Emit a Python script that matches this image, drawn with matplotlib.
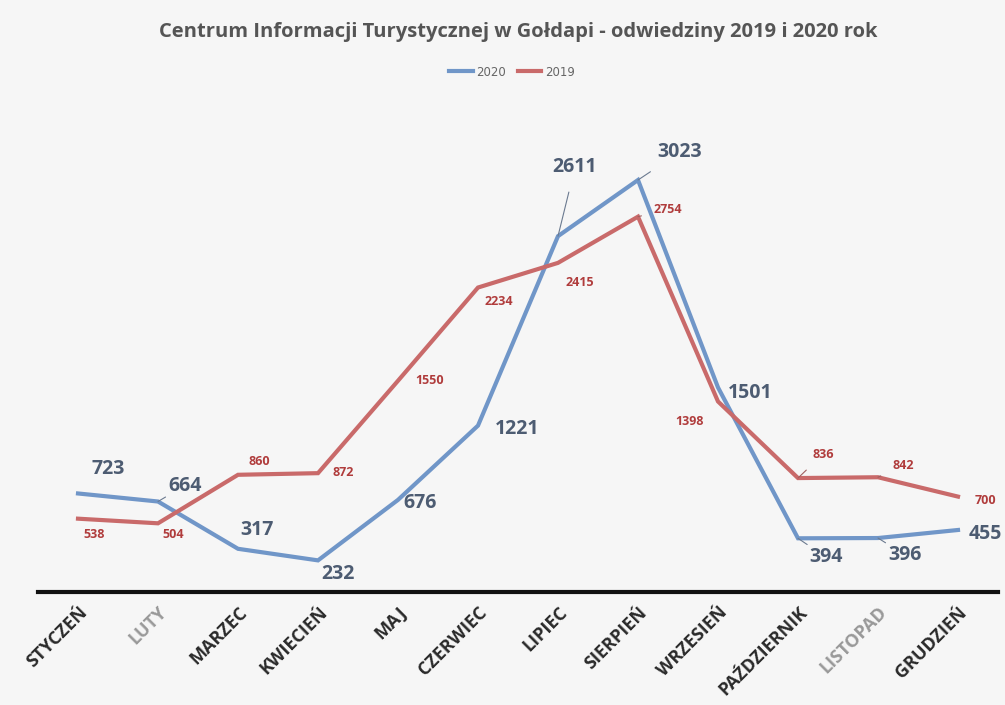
import matplotlib
matplotlib.use("Agg")
import matplotlib.pyplot as plt

months = ["STYCZEŃ", "LUTY", "MARZEC", "KWIECIEŃ", "MAJ", "CZERWIEC",
          "LIPIEC", "SIERPIEŃ", "WRZESIEŃ", "PAŹDZIERNIK", "LISTOPAD", "GRUDZIEŃ"]
visits_2020 = [723, 664, 317, 232, 676, 1221, 2611, 3023, 1501, 394, 396, 455]
visits_2019 = [538, 504, 860, 872, 1550, 2234, 2415, 2754, 1398, 836, 842, 700]

# label offsets in pixels (dx, dy) relative to points, and leader flags
off_2020 = [(30, 24), (27, 16), (19, 19), (20, -14), (22, -3), (39, -3),
            (17, 69), (42, 28), (32, -6), (28, -19), (27, -17), (27, -4)]
lead_2020 = [False, True, False, False, False, False, True, True, False, True, True, False]
off_2019 = [(16, -16), (15, -11), (21, 13), (25, 1), (32, 0), (21, -14),
            (22, -20), (30, 7), (-28, -20), (25, 24), (25, 12), (27, -4)]
lead_2019 = [False, False, False, False, False, False, False, True, False, True, True, False]

bg = "#f6f6f6"
fig = plt.figure(figsize=(10.05, 7.05), dpi=100, facecolor=bg)
ax = fig.add_axes([38 / 1005, 1 - 592 / 705, (998 - 38) / 1005, (592 - 115) / 705])
ax.set_facecolor(bg)

blue = "#7096c8"
red = "#c96a6a"
x = list(range(len(months)))
ax.plot(x, visits_2020, color=blue, lw=3, label="2020", solid_joinstyle="miter", zorder=3)
ax.plot(x, visits_2019, color=red, lw=3, label="2019", solid_joinstyle="miter", zorder=3)
ax.set_xlim(-0.5, 11.5)
ax.set_ylim(0, 3500)

ax.yaxis.set_visible(False)
for s in ["left", "right", "top"]:
    ax.spines[s].set_visible(False)
ax.spines["bottom"].set_color("#111111")
ax.spines["bottom"].set_linewidth(3)
ax.grid(axis="y", color="#d9d4b0", ls=(0, (1, 4)), lw=0.8)
ax.set_axisbelow(True)

ax.set_xticks(x)
ax.set_xticklabels(months, rotation=45, ha="right", va="top", rotation_mode="anchor",
                   fontsize=13, fontweight="bold", family="Open Sans")
for i, t in enumerate(ax.get_xticklabels()):
    t.set_color("#999999" if months[i] in ("LUTY", "LISTOPAD") else "#2a2a2a")
ax.tick_params(axis="x", length=0, pad=8)

# pixels -> points
pt = 72 / 100
for i, v in enumerate(visits_2020):
    dx, dy = off_2020[i]
    ax.annotate(str(v), (i, v), xytext=(dx * pt, dy * pt), textcoords="offset points",
                ha="center", va="center", fontsize=14, fontweight="bold",
                color="#4d5c72", family="Open Sans",
                arrowprops=dict(arrowstyle="-", color="#6b7a90", lw=0.8,
                                shrinkA=9, shrinkB=0) if lead_2020[i] else None, zorder=4)
for i, v in enumerate(visits_2019):
    dx, dy = off_2019[i]
    ax.annotate(str(v), (i, v), xytext=(dx * pt, dy * pt), textcoords="offset points",
                ha="center", va="center", fontsize=9, fontweight="bold",
                color="#b03c3c", family="Open Sans",
                arrowprops=dict(arrowstyle="-", color="#a06060", lw=0.8,
                                shrinkA=7, shrinkB=0) if lead_2019[i] else None, zorder=4)

fig.text(518 / 1005, 1 - 32 / 705,
         "Centrum Informacji Turystycznej w Gołdapi - odwiedziny 2019 i 2020 rok",
         ha="center", va="center", fontsize=14.5, fontweight="bold", color="#555555",
         family="Open Sans")
leg = ax.legend(loc="center", bbox_to_anchor=(512 / 1005, 1 - 72 / 705),
                bbox_transform=fig.transFigure, ncol=2, frameon=False,
                fontsize=8.5, handlelength=2.0, columnspacing=1.0, handletextpad=0.3)
for t in leg.get_texts():
    t.set_color("#666666")

fig.savefig("out.png", dpi=100, facecolor=fig.get_facecolor())
